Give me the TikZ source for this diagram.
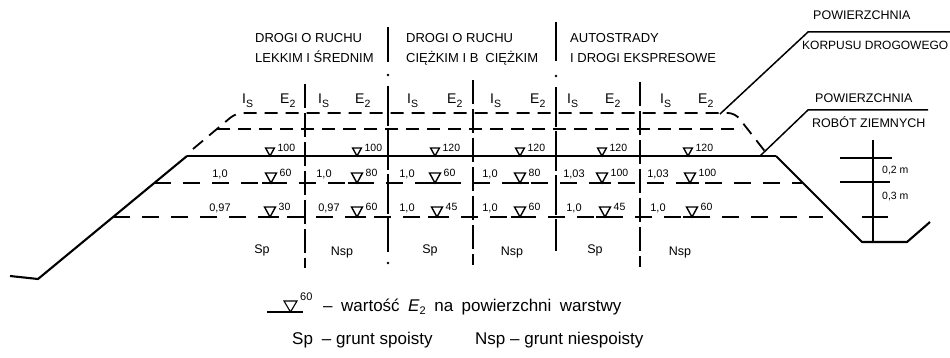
\documentclass[tikz,border=0pt]{standalone}
\usepackage{fontspec}
\setmainfont{Liberation Sans}
\newcommand\lblIs{I\raisebox{-3.5pt}{\fontsize{10.5}{10}\selectfont S}}
\newcommand\lblEd{E\raisebox{-3.5pt}{\fontsize{10.5}{10}\selectfont 2}}
\newcommand\wsp{\hspace{8.5pt}}
\tikzset{
  ground/.style={line width=2.1pt, line join=round},
  crest/.style={line width=2.7pt},
  dashsurf/.style={line width=1.8pt, dash pattern=on 13pt off 8pt},
  rowdash/.style={line width=1.8pt, dash pattern=on 17pt off 12pt},
  rowline/.style={line width=1.8pt},
  divminor/.style={line width=1.7pt, dash pattern=on 24pt off 5pt},
  divmajor/.style={line width=1.9pt, dash pattern=on 40pt off 4pt},
  divtop/.style={line width=1.9pt},
  leader/.style={line width=1.5pt},
  scalebar/.style={line width=1.6pt},
  tri/.style={line width=1.4pt, line join=miter},
  hdr/.style={font=\fontsize{13}{15}\selectfont, inner sep=0pt, anchor=base west},
  side/.style={font=\fontsize{12.5}{15}\selectfont, inner sep=0pt, anchor=base west},
  lbl/.style={font=\fontsize{14}{15}\selectfont, inner sep=0pt, anchor=base west},
  val/.style={font=\fontsize{10.5}{12}\selectfont, inner sep=0pt},
  num/.style={font=\fontsize{11}{12}\selectfont, inner sep=0pt},
  soil/.style={font=\fontsize{12.5}{14}\selectfont, inner sep=0pt},
  legend/.style={font=\fontsize{17}{20}\selectfont, inner sep=0pt, anchor=base west},
}
% #1 name, #2 x, #3 y (line), #4 value, #5 size, #6 base half width
\newcommand\emk[6]{%
  \draw[tri] ({#2-#5*0.55},{#3-#5}) -- ({#2+#5*0.55},{#3-#5}) -- (#2,#3) -- cycle;
  \ifdim #6pt>0pt \draw[rowline] ({#2-#6},#3) -- ({#2+#6},#3);\fi
  \node[val, anchor=west] (#1) at ({#2+#5*0.55+3},{#3-#5}) {#4};
}
\begin{document}
\begin{tikzpicture}[x=1pt,y=-1pt]
\useasboundingbox (0,0) rectangle (950,358);

% ground profile
\coordinate (gL0) at (10,276);
\coordinate (gL1) at (38,279);
\coordinate (crL) at (187,156);
\coordinate (crR) at (776,156);
\coordinate (dL) at (862,242);
\coordinate (dR) at (907,242);
\coordinate (gR) at (930,222);
\draw[ground] (gL0) -- (gL1) -- (crL);
\draw[crest] (crL) -- (crR);
\draw[ground] (crR) -- (dL) -- (dR) -- (gR);

% pavement body (dashed)
\coordinate (kL0) at (193,149);
\coordinate (kL1) at (236,113);
\coordinate (kR1) at (735,113);
\coordinate (kR0) at (767,154);
\draw[dashsurf, rounded corners=7pt] (kL0) -- (kL1) -- (kR1) -- (kR0);
\coordinate (k2L) at (217,129);
\coordinate (k2R) at (742,129);
\draw[dashsurf] (k2L) -- (k2R);

% layer lines
\coordinate (r1L) at (154,183);
\coordinate (r1R) at (802,183);
\coordinate (r2L) at (113,217);
\coordinate (r2R) at (823,217);
\draw[rowdash] (r1L) -- (r1R);
\draw[rowdash] (r2L) -- (r2R);

% dividers
\foreach \xx/\ya/\yb in {305/84/268, 473/80/265, 640/82/267}
  \draw[divminor] (\xx,\ya) -- (\xx,\yb);
\draw[divtop] (388,27) -- (388,62);
\fill (388,75) circle (1.3);
\draw[divmajor] (388,86) -- (388,252);
\fill (388,263) circle (1.3);
\draw[divtop] (556,22) -- (556,61);
\fill (556,76) circle (1.3);
\draw[divmajor] (556,87) -- (556,251);

% headers
\node[hdr] (h1a) at (255,43) {DROGI O RUCHU};
\node[hdr] (h1b) at (255,63) {LEKKIM I ŚREDNIM};
\node[hdr] (h2a) at (406,43) {DROGI O RUCHU};
\node[hdr] (h2b) at (406,63) {CIĘŻKIM I B\hspace{7pt}CIĘŻKIM};
\node[hdr] (h3a) at (570,43) {AUTOSTRADY};
\node[hdr] (h3b) at (570,63) {I DROGI EKSPRESOWE};

% side labels with leaders
\node[side] (p1a) at (813,20) {POWIERZCHNIA};
\node[side, font=\fontsize{12}{14}\selectfont] (p1b) at (802,50) {KORPUSU DROGOWEGO};
\coordinate (ld1a) at (720,114);
\coordinate (ld1b) at (808,32);
\coordinate (ld1c) at (950,32);
\draw[leader] (ld1a) -- (ld1b) -- (ld1c);
\node[side] (p2a) at (815,103) {POWIERZCHNIA};
\node[side] (p2b) at (812,128) {ROBÓT ZIEMNYCH};
\coordinate (ld2a) at (760,156);
\coordinate (ld2b) at (808,110);
\coordinate (ld2c) at (928,110);
\draw[leader] (ld2a) -- (ld2b) -- (ld2c);

% Is / E2 labels
\node[lbl] (is1) at (242,104) {\lblIs};
\node[lbl] (ed1) at (280,104) {\lblEd};
\node[lbl] (is2) at (318,104) {\lblIs};
\node[lbl] (ed2) at (355,104) {\lblEd};
\node[lbl] (is3) at (407,104) {\lblIs};
\node[lbl] (ed3) at (447,104) {\lblEd};
\node[lbl] (is4) at (490,104) {\lblIs};
\node[lbl] (ed4) at (530,104) {\lblEd};
\node[lbl] (is5) at (567,104) {\lblIs};
\node[lbl] (ed5) at (605,104) {\lblEd};
\node[lbl] (is6) at (660,104) {\lblIs};
\node[lbl] (ed6) at (698,104) {\lblEd};

% E2 markers on the earthworks surface
\emk{v0c1}{270}{156}{100}{8}{0}
\emk{v0c2}{357}{156}{100}{8}{0}
\emk{v0c3}{435}{156}{120}{8}{0}
\emk{v0c4}{520}{156}{120}{8}{0}
\emk{v0c5}{602}{156}{120}{8}{0}
\emk{v0c6}{688}{156}{120}{8}{0}

% row 1
\emk{v1c1}{271}{183}{60}{10}{9}
\emk{v1c2}{357}{183}{80}{10}{9}
\emk{v1c3}{435}{183}{60}{10}{9}
\emk{v1c4}{520}{183}{80}{10}{9}
\emk{v1c5}{602}{183}{100}{10}{9}
\emk{v1c6}{690}{183}{100}{10}{9}
\node[num] (n1c1) at (220,174) {1,0};
\node[num] (n1c2) at (324,174) {1,0};
\node[num] (n1c3) at (407,174) {1,0};
\node[num] (n1c4) at (490,174) {1,0};
\node[num] (n1c5) at (574,174) {1,03};
\node[num] (n1c6) at (658,174) {1,03};

% row 2
\emk{v2c1}{270}{217}{30}{10}{9}
\emk{v2c2}{357}{217}{60}{10}{9}
\emk{v2c3}{437}{217}{45}{10}{9}
\emk{v2c4}{520}{217}{60}{10}{9}
\emk{v2c5}{605}{217}{45}{10}{9}
\emk{v2c6}{692}{217}{60}{10}{9}
\node[num] (n2c1) at (220,208) {0,97};
\node[num] (n2c2) at (329,208) {0,97};
\node[num] (n2c3) at (407,208) {1,0};
\node[num] (n2c4) at (490,208) {1,0};
\node[num] (n2c5) at (574,208) {1,0};
\node[num] (n2c6) at (658,208) {1,0};

% soil types
\node[soil] (s1) at (262,250) {Sp};
\node[soil] (s2) at (342,252) {Nsp};
\node[soil] (s3) at (430,250) {Sp};
\node[soil] (s4) at (512,252) {Nsp};
\node[soil] (s5) at (595,250) {Sp};
\node[soil] (s6) at (680,252) {Nsp};

% scale bar
\coordinate (sbT) at (873,140);
\coordinate (sbB) at (873,242);
\draw[scalebar] (sbT) -- (sbB);
\coordinate (t1a) at (840,158); \coordinate (t1b) at (892,158);
\coordinate (t2a) at (840,182); \coordinate (t2b) at (890,182);
\coordinate (t3a) at (862,217); \coordinate (t3b) at (888,217);
\draw[scalebar] (t1a) -- (t1b);
\draw[scalebar] (t2a) -- (t2b);
\draw[scalebar] (t3a) -- (t3b);
\node[val, anchor=west] (sc1) at (882,171) {0,2 m};
\node[val, anchor=west] (sc2) at (882,197) {0,3 m};

% legend
\coordinate (lgA) at (267,312);
\coordinate (lgB) at (303,312);
\draw[rowline, line width=1.2pt] (lgA) -- (lgB);
\draw[tri, line width=1.1pt] (284,301) -- (297,301) -- (290.5,312) -- cycle;
\node[val, font=\fontsize{11}{12}\selectfont, anchor=west] (lg60) at (300,297) {60};
\node[legend] (lg1) at (323,311) {–\wsp wartość\wsp \textit{E}\raisebox{-3pt}{\fontsize{11}{11}\selectfont 2}\wsp na\wsp powierzchni\wsp warstwy};
\node[legend] (lg2) at (292,344) {Sp\hspace{9pt}– grunt spoisty};
\node[legend] (lg3) at (475,344) {Nsp – grunt niespoisty};
\end{tikzpicture}
\end{document}
